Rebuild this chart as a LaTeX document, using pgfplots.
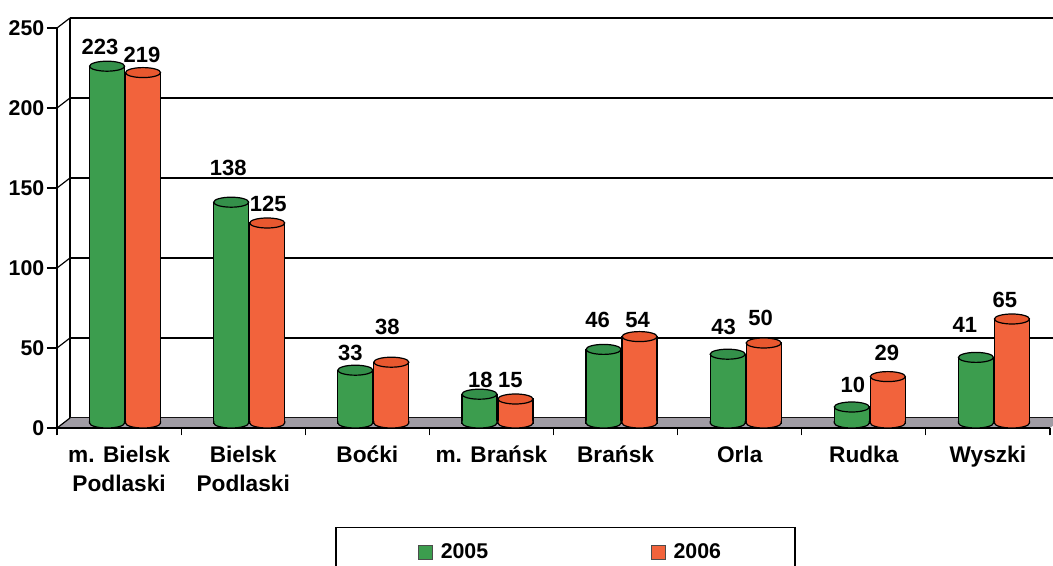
\documentclass[border=0pt]{standalone}
\usepackage{fontspec}
\setmainfont{Liberation Sans}
\usepackage{pgfplots}
\pgfplotsset{compat=1.18}
\usepackage{pgfplotstable}
\definecolor{cgreen}{HTML}{3C9D4E}
\definecolor{cgreenT}{HTML}{34904A}
\definecolor{corange}{HTML}{F2633C}
\definecolor{corangeT}{HTML}{E8582F}
\definecolor{cfloor}{HTML}{A09CA4}

% x = category index, v = value, b = cylinder base
\pgfplotstableread{
x v b
0 223 0
1 138 0
2 33 0
3 18 0
4 46 0
5 43 0
6 10 0
7 41 0
}\tA
\pgfplotstableread{
x v b
0 219 0
1 125 0
2 38 0
3 15 0
4 54 0
5 50 0
6 29 0
7 65 0
}\tB

\pgfplotsset{
  labA/.style={
    coordinate style/.condition={x==0}{xshift=-5.25pt,yshift=14.25pt},
    coordinate style/.condition={x==1}{xshift=-2.25pt,yshift=25.5pt},
    coordinate style/.condition={x==2}{xshift=-3.75pt,yshift=12.75pt},
    coordinate style/.condition={x==3}{xshift=0.75pt,yshift=10.5pt},
    coordinate style/.condition={x==4}{xshift=-4.5pt,yshift=21.75pt},
    coordinate style/.condition={x==5}{xshift=-3pt,yshift=20.25pt},
    coordinate style/.condition={x==6}{xshift=0.75pt,yshift=16.5pt},
    coordinate style/.condition={x==7}{xshift=-8.25pt,yshift=24pt},
  },
  labB/.style={
    coordinate style/.condition={x==0}{xshift=-0.75pt,yshift=13.5pt},
    coordinate style/.condition={x==1}{xshift=0.75pt,yshift=14.25pt},
    coordinate style/.condition={x==2}{xshift=-3pt,yshift=26.25pt},
    coordinate style/.condition={x==3}{xshift=-3.75pt,yshift=14.25pt},
    coordinate style/.condition={x==4}{xshift=-1.5pt,yshift=12.75pt},
    coordinate style/.condition={x==5}{xshift=-2.25pt,yshift=18.75pt},
    coordinate style/.condition={x==6}{xshift=-0.75pt,yshift=18pt},
    coordinate style/.condition={x==7}{xshift=-5.25pt,yshift=14.25pt},
  },
}

\pgfdeclareplotmark{topL}{%
 \pgfpathellipse{\pgfpoint{-13.5pt}{0pt}}{\pgfpoint{13.125pt}{0pt}}{\pgfpoint{0pt}{3.75pt}}%
 \pgfusepathqfillstroke}
\pgfdeclareplotmark{topR}{%
 \pgfpathellipse{\pgfpoint{13.5pt}{0pt}}{\pgfpoint{13.125pt}{0pt}}{\pgfpoint{0pt}{3.75pt}}%
 \pgfusepathqfillstroke}
\pgfdeclareplotmark{botL}{%
 \pgfpathmoveto{\pgfpoint{-26.625pt}{1.5pt}}%
 \pgfpathlineto{\pgfpoint{-26.625pt}{0pt}}%
 \pgfpatharc{180}{360}{13.125pt and 3.75pt}%
 \pgfpathlineto{\pgfpoint{-0.375pt}{1.5pt}}%
 \pgfpathclose
 \pgfusepathqfill
 \pgfpathmoveto{\pgfpoint{-26.625pt}{1.5pt}}%
 \pgfpathlineto{\pgfpoint{-26.625pt}{0pt}}%
 \pgfpatharc{180}{360}{13.125pt and 3.75pt}%
 \pgfpathlineto{\pgfpoint{-0.375pt}{1.5pt}}%
 \pgfusepathqstroke}
\pgfdeclareplotmark{botR}{%
 \pgfpathmoveto{\pgfpoint{0.375pt}{1.5pt}}%
 \pgfpathlineto{\pgfpoint{0.375pt}{0pt}}%
 \pgfpatharc{180}{360}{13.125pt and 3.75pt}%
 \pgfpathlineto{\pgfpoint{26.625pt}{1.5pt}}%
 \pgfpathclose
 \pgfusepathqfill
 \pgfpathmoveto{\pgfpoint{0.375pt}{1.5pt}}%
 \pgfpathlineto{\pgfpoint{0.375pt}{0pt}}%
 \pgfpatharc{180}{360}{13.125pt and 3.75pt}%
 \pgfpathlineto{\pgfpoint{26.625pt}{1.5pt}}%
 \pgfusepathqstroke}

\begin{document}
\begin{tikzpicture}
\useasboundingbox (0,0) rectangle (789.75pt,424.5pt);

% back wall with gridlines
\begin{axis}[
  at={(52.5pt,111pt)}, anchor=south west,
  scale only axis, width=744.75pt, height=300pt,
  xmin=-0.5, xmax=7.5, ymin=0, ymax=250,
  separate axis lines, axis x line=none, axis y line=left,
  axis line style={-, line width=0.9pt},
  xtick=\empty, ytick={0,50,...,250}, yticklabels={},
  major tick length=0pt,
  ymajorgrids, grid style={black, line width=0.9pt},
]
\end{axis}

% floor and connecting edges
\begin{scope}[x=0.75pt, y=-0.75pt, yshift=424.5pt]
  \fill[cfloor] (57,428) -- (1050,428) -- (1063,418) -- (70,418) -- cycle;
  \foreach \v in {0,50,...,250}{
    \draw[line width=0.9pt] (57,{428-1.6*\v}) -- (70,{418-1.6*\v});
  }
\end{scope}

% front axis
\begin{axis}[
  at={(42.75pt,103.5pt)}, anchor=south west,
  scale only axis, width=744.75pt, height=300pt,
  xmin=-0.5, xmax=7.5, ymin=0, ymax=250,
  separate axis lines, axis x line=bottom, axis y line=left,
  axis line style={-, line width=0.9pt},
  tick align=outside,
  major tick length=7.5pt, minor tick length=5.5pt,
  every tick/.style={black, line width=0.9pt},
  ytick={0,50,...,250},
  xtick={0,...,7},
  major x tick style={draw=none},
  minor xtick={-0.5,0.5,...,7.5},
  xticklabels={{m. Bielsk\\Podlaski},{Bielsk\\Podlaski},{Boćki},{m. Brańsk},{Brańsk},{Orla},{Rudka},{Wyszki}},
  xticklabel style={align=center, font=\fontsize{17}{22}\selectfont\bfseries, yshift=-2.5pt},
  yticklabel style={font=\fontsize{16}{18}\selectfont\bfseries, xshift=1.5pt},
  /pgf/number format/assume math mode=true,
  legend columns=2,
  legend image code/.code={\path[draw=none, fill=none] (-8.25pt,0pt) circle[radius=0pt]; \draw[#1, draw=black!70, line width=0.5pt] (0pt,-5.25pt) rectangle (10.5pt,5.25pt); \path[draw=none, fill=none] (15pt,0pt) circle[radius=0pt];},
  legend style={at={(0.280,-0.2475)}, anchor=north west, draw=black, line width=1.1pt,
    font=\fontsize{16}{19}\selectfont\bfseries, inner xsep=53.5pt, inner ysep=10pt,
    /tikz/every even column/.append style={column sep=111.75pt}},
]
\addlegendimage{fill=cgreen}
\addlegendentry{2005}
\addlegendimage{fill=corange}
\addlegendentry{2006}
\end{axis}

% bars (cylinders) at mid depth
\begin{axis}[
  at={(47.25pt,107.25pt)}, anchor=south west,
  scale only axis, width=744.75pt, height=300pt,
  xmin=-0.5, xmax=7.5, ymin=0, ymax=250,
  hide axis, clip=false,
  /pgf/number format/assume math mode=true,
  every node near coord/.append style={font=\fontsize{16.5}{18}\selectfont\bfseries, text=black, anchor=center},
]
\addplot[ybar, bar width=26.25pt, bar shift=-13.5pt, fill=cgreen, draw=black, line width=0.9pt,
  nodes near coords, every node near coord/.append style={xshift=-13.5pt}, labA]
  table[x=x, y=v]{\tA};
\addplot[only marks, mark=topL, mark options={fill=cgreenT, draw=black, line width=0.9pt}] table[x=x, y=v]{\tA};
\addplot[only marks, mark=botL, mark options={fill=cgreen, draw=black, line width=0.9pt}] table[x=x, y=b]{\tA};

\addplot[ybar, bar width=26.25pt, bar shift=13.5pt, fill=corange, draw=black, line width=0.9pt,
  nodes near coords, every node near coord/.append style={xshift=13.5pt}, labB]
  table[x=x, y=v]{\tB};
\addplot[only marks, mark=topR, mark options={fill=corangeT, draw=black, line width=0.9pt}] table[x=x, y=v]{\tB};
\addplot[only marks, mark=botR, mark options={fill=corange, draw=black, line width=0.9pt}] table[x=x, y=b]{\tB};
\end{axis}
\end{tikzpicture}
\end{document}
